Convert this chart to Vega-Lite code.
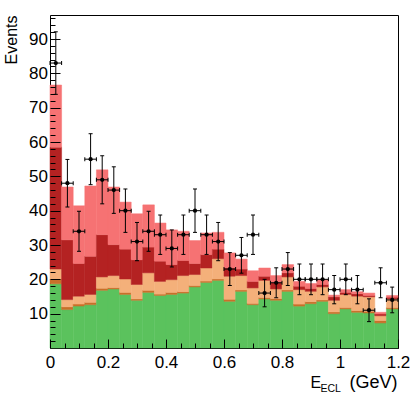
{
  "$schema": "https://vega.github.io/schema/vega-lite/v6.json",
  "width": 348,
  "height": 333,
  "autosize": {"type": "none"},
  "padding": {"left": 50, "top": 15, "right": 17, "bottom": 47},
  "background": "white",
  "config": {
    "view": {"stroke": "black", "strokeWidth": 1},
    "font": "Liberation Sans",
    "axis": {"grid": false, "domain": false, "tickColor": "black", "tickWidth": 1, "labelColor": "black", "titleColor": "black", "titleFontWeight": "normal"}
  },
  "data": {"values": [
    {"x0": 0.00, "x1": 0.04, "xc": 0.02, "s1": 18.7, "s2": 1.4, "s3": 2.9, "s4": 35.5, "s5": 18.1, "n": 83, "lo": 73.89, "hi": 92.11},
    {"x0": 0.04, "x1": 0.08, "xc": 0.06, "s1": 11.2, "s2": 0.8, "s3": 2.1, "s4": 17.4, "s5": 15.4, "n": 48, "lo": 41.07, "hi": 54.93},
    {"x0": 0.08, "x1": 0.12, "xc": 0.10, "s1": 12.2, "s2": 0.6, "s3": 2.3, "s4": 9.5, "s5": 16.8, "n": 34, "lo": 28.17, "hi": 39.83},
    {"x0": 0.12, "x1": 0.16, "xc": 0.14, "s1": 12.6, "s2": 0.7, "s3": 2.3, "s4": 11.1, "s5": 20.5, "n": 55, "lo": 47.58, "hi": 62.42},
    {"x0": 0.16, "x1": 0.20, "xc": 0.18, "s1": 16.8, "s2": 0.6, "s3": 3.3, "s4": 12.3, "s5": 18.9, "n": 49, "lo": 42.0, "hi": 56.0},
    {"x0": 0.20, "x1": 0.24, "xc": 0.22, "s1": 17.2, "s2": 0.4, "s3": 3.5, "s4": 9.0, "s5": 16.8, "n": 46, "lo": 39.22, "hi": 52.78},
    {"x0": 0.24, "x1": 0.28, "xc": 0.26, "s1": 15.6, "s2": 0.6, "s3": 3.9, "s4": 8.7, "s5": 13.7, "n": 40, "lo": 33.68, "hi": 46.32},
    {"x0": 0.28, "x1": 0.32, "xc": 0.30, "s1": 13.9, "s2": 0.4, "s3": 4.2, "s4": 7.2, "s5": 13.4, "n": 31, "lo": 25.43, "hi": 36.57},
    {"x0": 0.32, "x1": 0.36, "xc": 0.34, "s1": 16.2, "s2": 0.6, "s3": 5.1, "s4": 7.5, "s5": 12.3, "n": 34, "lo": 28.17, "hi": 39.83},
    {"x0": 0.36, "x1": 0.40, "xc": 0.38, "s1": 15.3, "s2": 0.4, "s3": 3.7, "s4": 5.9, "s5": 11.1, "n": 33, "lo": 27.26, "hi": 38.74},
    {"x0": 0.40, "x1": 0.44, "xc": 0.42, "s1": 15.6, "s2": 0.6, "s3": 3.7, "s4": 4.4, "s5": 10.1, "n": 29, "lo": 23.61, "hi": 34.39},
    {"x0": 0.44, "x1": 0.48, "xc": 0.46, "s1": 16.0, "s2": 0.4, "s3": 4.7, "s4": 4.4, "s5": 8.5, "n": 33, "lo": 27.26, "hi": 38.74},
    {"x0": 0.48, "x1": 0.52, "xc": 0.50, "s1": 17.8, "s2": 0.4, "s3": 3.2, "s4": 3.2, "s5": 6.7, "n": 40, "lo": 33.68, "hi": 46.32},
    {"x0": 0.52, "x1": 0.56, "xc": 0.54, "s1": 19.1, "s2": 0.4, "s3": 3.8, "s4": 3.9, "s5": 6.3, "n": 33, "lo": 27.26, "hi": 38.74},
    {"x0": 0.56, "x1": 0.60, "xc": 0.58, "s1": 19.7, "s2": 0.4, "s3": 5.9, "s4": 2.8, "s5": 4.9, "n": 31, "lo": 25.43, "hi": 36.57},
    {"x0": 0.60, "x1": 0.64, "xc": 0.62, "s1": 13.6, "s2": 0.6, "s3": 6.7, "s4": 2.4, "s5": 4.4, "n": 23, "lo": 18.2, "hi": 27.8},
    {"x0": 0.64, "x1": 0.68, "xc": 0.66, "s1": 16.5, "s2": 0.4, "s3": 4.2, "s4": 1.9, "s5": 2.9, "n": 27, "lo": 21.8, "hi": 32.2},
    {"x0": 0.68, "x1": 0.72, "xc": 0.70, "s1": 12.6, "s2": 0.4, "s3": 4.5, "s4": 1.9, "s5": 3.1, "n": 33, "lo": 27.26, "hi": 38.74},
    {"x0": 0.72, "x1": 0.76, "xc": 0.74, "s1": 14.3, "s2": 0.4, "s3": 5.0, "s4": 1.2, "s5": 2.4, "n": 16, "lo": 12.0, "hi": 20.0},
    {"x0": 0.76, "x1": 0.80, "xc": 0.78, "s1": 13.9, "s2": 0.5, "s3": 2.8, "s4": 1.9, "s5": 2.0, "n": 19, "lo": 14.64, "hi": 23.36},
    {"x0": 0.80, "x1": 0.84, "xc": 0.82, "s1": 16.5, "s2": 0.4, "s3": 3.8, "s4": 1.2, "s5": 2.4, "n": 23, "lo": 18.2, "hi": 27.8},
    {"x0": 0.84, "x1": 0.88, "xc": 0.86, "s1": 12.2, "s2": 0.6, "s3": 4.2, "s4": 1.0, "s5": 1.4, "n": 20, "lo": 15.53, "hi": 24.47},
    {"x0": 0.88, "x1": 0.92, "xc": 0.90, "s1": 12.9, "s2": 0.6, "s3": 3.0, "s4": 0.8, "s5": 1.5, "n": 20, "lo": 15.53, "hi": 24.47},
    {"x0": 0.92, "x1": 0.96, "xc": 0.94, "s1": 13.6, "s2": 0.4, "s3": 3.8, "s4": 0.7, "s5": 1.4, "n": 20, "lo": 15.53, "hi": 24.47},
    {"x0": 0.96, "x1": 1.00, "xc": 0.98, "s1": 10.0, "s2": 0.5, "s3": 3.4, "s4": 1.0, "s5": 0.5, "n": 17, "lo": 12.88, "hi": 21.12},
    {"x0": 1.00, "x1": 1.04, "xc": 1.02, "s1": 11.4, "s2": 0.4, "s3": 3.8, "s4": 0.6, "s5": 0.8, "n": 20, "lo": 15.53, "hi": 24.47},
    {"x0": 1.04, "x1": 1.08, "xc": 1.06, "s1": 10.4, "s2": 0.5, "s3": 4.2, "s4": 0.7, "s5": 0.6, "n": 17, "lo": 12.88, "hi": 21.12},
    {"x0": 1.08, "x1": 1.12, "xc": 1.10, "s1": 10.2, "s2": 0.5, "s3": 4.2, "s4": 0.4, "s5": 0.7, "n": 11, "lo": 7.68, "hi": 14.32},
    {"x0": 1.12, "x1": 1.16, "xc": 1.14, "s1": 7.3, "s2": 0.7, "s3": 1.4, "s4": 0.5, "s5": 0.5, "n": 19, "lo": 14.64, "hi": 23.36},
    {"x0": 1.16, "x1": 1.20, "xc": 1.18, "s1": 11.4, "s2": 0.4, "s3": 2.5, "s4": 0.5, "s5": 0.5, "n": 14, "lo": 10.26, "hi": 17.74}
  ]},
  "resolve": {"axis": {"x": "independent", "y": "independent"}},
  "layer": [
    {
      "transform": [
        {"fold": ["s1", "s2", "s3", "s4", "s5"]},
        {"stack": "value", "groupby": ["x0"], "sort": [{"field": "key", "order": "ascending"}], "as": ["y0", "y1"]}
      ],
      "mark": {"type": "rect", "strokeWidth": 0.5},
      "encoding": {
        "x": {"field": "x0", "type": "quantitative", "scale": {"domain": [0, 1.2], "nice": false, "zero": false},
          "axis": {
            "orient": "bottom", "zindex": 2,
            "values": [0, 0.2, 0.4, 0.6, 0.8, 1, 1.2],
            "format": "~g",
            "offset": -9,
            "tickSize": 9,
            "labelFontSize": 17, "labelPadding": 6, "labelFlush": false, "labelOverlap": false,
            "title": "(GeV)", "titleFontSize": 18, "titleAlign": "right", "titleAnchor": "end",
            "titleX": 347, "titleY": 48.5, "titleBaseline": "alphabetic"
          }},
        "x2": {"field": "x1"},
        "y": {"field": "y0", "type": "quantitative", "scale": {"domain": [0, 97], "nice": false, "zero": true},
          "axis": {
            "orient": "left", "zindex": 2,
            "values": [10, 20, 30, 40, 50, 60, 70, 80, 90],
            "offset": -10,
            "tickSize": 10,
            "labelFontSize": 17, "labelPadding": 2.5, "labelOverlap": false, "labelFlush": false,
            "title": "Events", "titleFontSize": 16, "titleAngle": -90, "titleAlign": "right", "titleAnchor": "end",
            "titleX": -44, "titleY": 0, "titleBaseline": "alphabetic"
          }},
        "y2": {"field": "y1"},
        "color": {"field": "key", "type": "nominal", "legend": null,
          "scale": {"domain": ["s1", "s2", "s3", "s4", "s5"], "range": ["#5bc25d", "#c8702a", "#f4b07a", "#b42222", "#f67273"]}},
        "stroke": {"field": "key", "type": "nominal", "legend": null,
          "scale": {"domain": ["s1", "s2", "s3", "s4", "s5"], "range": ["#5bc25d", "#c8702a", "#f4b07a", "#b42222", "#f67273"]}}
      }
    },
    {
      "mark": {"type": "rule", "color": "black", "strokeWidth": 1},
      "encoding": {
        "x": {"field": "xc", "type": "quantitative", "scale": {"domain": [0, 1.2], "nice": false, "zero": false},
          "axis": {"orient": "bottom", "zindex": 2, "title": "E", "labels": false, "domain": false,
            "values": [0.05, 0.1, 0.15, 0.25, 0.3, 0.35, 0.45, 0.5, 0.55, 0.65, 0.7, 0.75, 0.85, 0.9, 0.95, 1.05, 1.1, 1.15],
            "offset": -5,
            "tickSize": 5,
            "titleFontSize": 16, "titleAlign": "left", "titleAnchor": "start", "titleX": 260, "titleY": 44.5, "titleBaseline": "alphabetic"}},
        "y": {"field": "lo", "type": "quantitative", "scale": {"domain": [0, 97], "nice": false},
          "axis": {"orient": "left", "zindex": 2, "title": null, "labels": false, "domain": false,
            "values": [2, 4, 6, 8, 12, 14, 16, 18, 22, 24, 26, 28, 32, 34, 36, 38, 42, 44, 46, 48, 52, 54, 56, 58, 62, 64, 66, 68, 72, 74, 76, 78, 82, 84, 86, 88, 92, 94, 96],
            "offset": -5,
            "tickSize": 5}},
        "y2": {"field": "hi"}
      }
    },
    {
      "mark": {"type": "rule", "color": "black", "strokeWidth": 1},
      "encoding": {
        "x": {"field": "x0", "type": "quantitative", "scale": {"domain": [0, 1.2], "nice": false, "zero": false},
          "axis": {"orient": "bottom", "zindex": 2, "title": "ECL", "labels": false, "ticks": false, "domain": false,
            "titleFontSize": 10.5, "titleAlign": "left", "titleAnchor": "start", "titleX": 270, "titleY": 43, "titleBaseline": "alphabetic"}},
        "x2": {"field": "x1"},
        "y": {"field": "n", "type": "quantitative", "scale": {"domain": [0, 97], "nice": false}, "axis": null}
      }
    },
    {
      "transform": [{"fold": ["lo", "hi"], "as": ["ck", "cv"]}],
      "mark": {"type": "tick", "orient": "horizontal", "color": "black", "opacity": 1, "size": 4, "thickness": 1},
      "encoding": {
        "x": {"field": "xc", "type": "quantitative", "scale": {"domain": [0, 1.2], "nice": false, "zero": false}, "axis": null},
        "y": {"field": "cv", "type": "quantitative", "scale": {"domain": [0, 97], "nice": false}, "axis": null}
      }
    },
    {
      "transform": [{"fold": ["x0", "x1"], "as": ["ck", "cx"]}],
      "mark": {"type": "tick", "orient": "vertical", "color": "black", "opacity": 1, "size": 4, "thickness": 1},
      "encoding": {
        "x": {"field": "cx", "type": "quantitative", "scale": {"domain": [0, 1.2], "nice": false, "zero": false}, "axis": null},
        "y": {"field": "n", "type": "quantitative", "scale": {"domain": [0, 97], "nice": false}, "axis": null}
      }
    },
    {
      "mark": {"type": "circle", "color": "black", "opacity": 1, "size": 18},
      "encoding": {
        "x": {"field": "xc", "type": "quantitative", "scale": {"domain": [0, 1.2], "nice": false, "zero": false}, "axis": null},
        "y": {"field": "n", "type": "quantitative", "scale": {"domain": [0, 97], "nice": false}, "axis": null}
      }
    }
  ]
}
